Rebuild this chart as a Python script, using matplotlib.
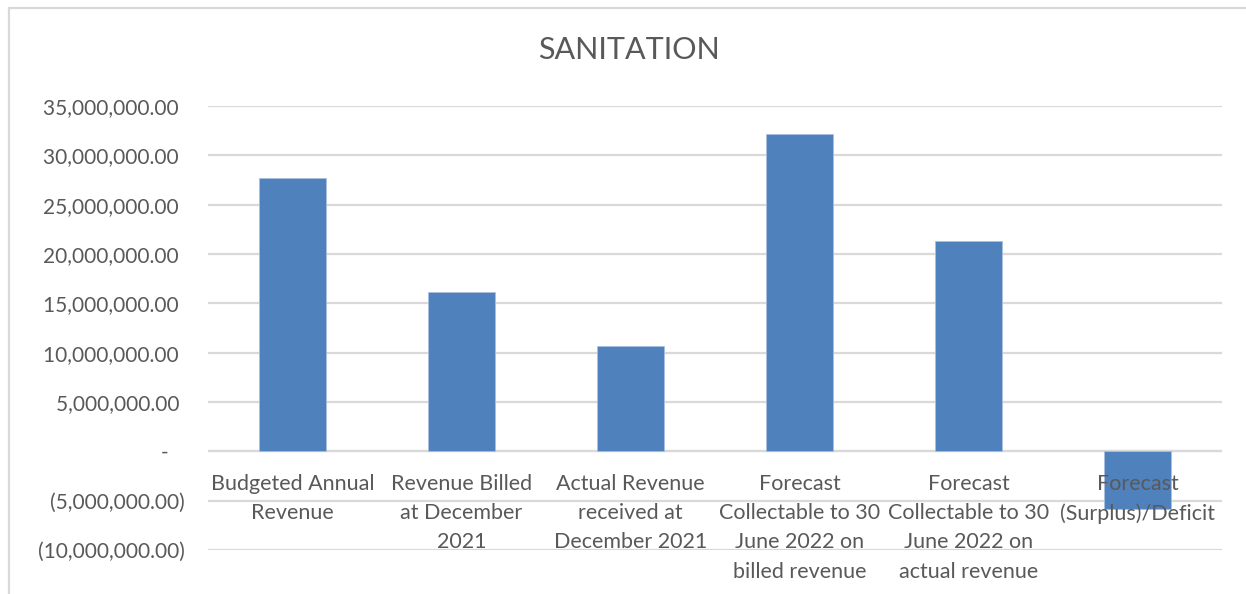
import numpy as np
import matplotlib.pyplot as plt
from matplotlib.patches import Rectangle
from matplotlib.ticker import FuncFormatter, MultipleLocator

categories = [
    "Budgeted Annual\nRevenue",
    "Revenue Billed\nat December\n2021",
    "Actual Revenue\nreceived at\nDecember 2021",
    "Forecast\nCollectable to 30\nJune 2022 on\nbilled revenue",
    "Forecast\nCollectable to 30\nJune 2022 on\nactual revenue",
    "Forecast\n(Surplus)/Deficit",
]
values = [27750000, 16100000, 10650000, 32200000, 21300000, -5800000]

plt.rcParams['font.family'] = ['Lato', 'DejaVu Sans']
text_grey = '#595959'
grid_grey = '#D9D9D9'
bar_blue = '#4F81BD'

W, H = 1246, 594
fig = plt.figure(figsize=(W / 100, H / 100), dpi=100)
ax = fig.add_axes([208 / W, 1 - 550 / H, (1222 - 208) / W, (550 - 106) / H])

x = np.arange(len(categories))
ax.bar(x, values, width=0.4, color=bar_blue, edgecolor='#A9C0DE', linewidth=0.6, zorder=3)

ax.set_xlim(-0.5, len(categories) - 0.5)
ax.set_ylim(-10000000, 35000000)
ax.yaxis.set_major_locator(MultipleLocator(5000000))


def acct(v, pos):
    # accounting style: dash for zero, brackets for negatives
    if abs(v) < 1:
        return '-   '
    if v < 0:
        return f'({abs(v):,.2f})'
    return f'{v:,.2f} '


ax.yaxis.set_major_formatter(FuncFormatter(acct))
ax.grid(axis='y', color=grid_grey, linewidth=1.6, zorder=0)
ax.set_axisbelow(True)

for s in ['top', 'right', 'left', 'bottom']:
    ax.spines[s].set_visible(False)
ax.axhline(0, color=grid_grey, linewidth=1.6, zorder=1)

ax.set_xticks([])
ax.tick_params(axis='y', length=0, pad=17, labelsize=15, labelcolor=text_grey)

# category names sit just under the zero line, on top of the bars
for xi, name in zip(x, categories):
    ax.annotate(name, xy=(xi, 0), xytext=(0, -16.5), textcoords='offset points',
                ha='center', va='top', fontsize=15.5, color=text_grey,
                linespacing=1.57, zorder=5, annotation_clip=False)

fig.text(629 / W, 1 - 50 / H, 'SANITATION', ha='center', va='center',
         fontsize=22, color=text_grey)

# chart area border (runs off the right and bottom edges)
fig.patches.append(Rectangle((9 / W, -0.5), 2, 1.5 - 8 / H, transform=fig.transFigure,
                             fill=False, edgecolor=grid_grey, linewidth=1.6))

fig.savefig('out.png', dpi=100, facecolor='white')
